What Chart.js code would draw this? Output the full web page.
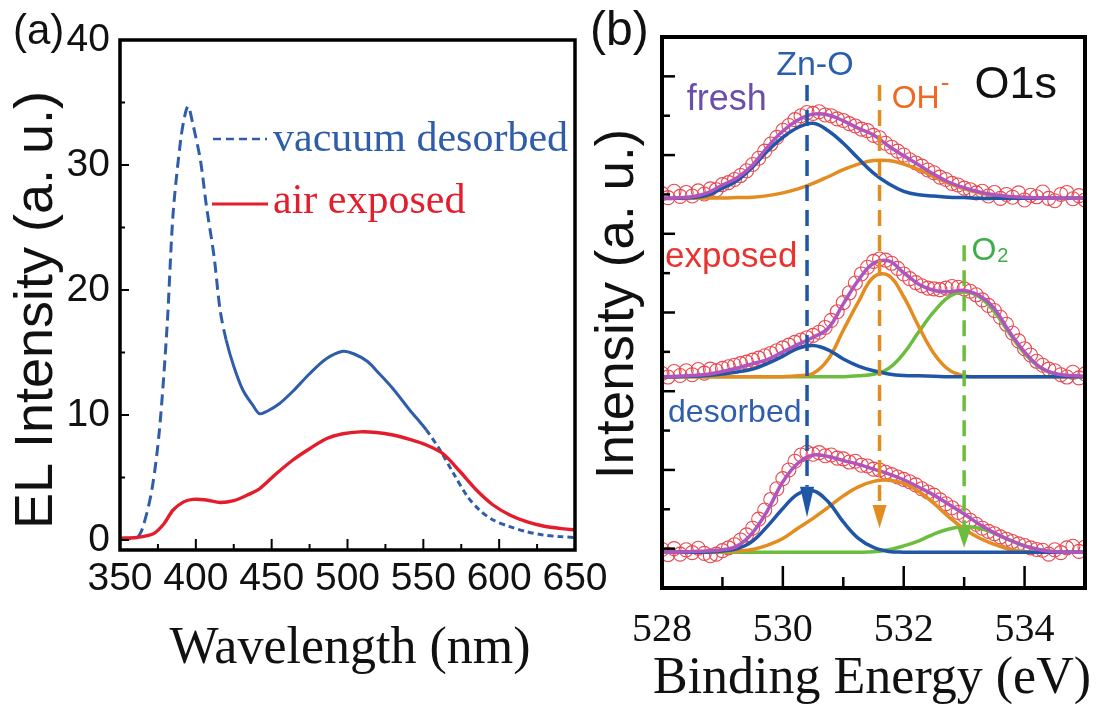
<!DOCTYPE html>
<html><head><meta charset="utf-8">
<script src="https://cdn.jsdelivr.net/npm/chart.js@4.4.1/dist/chart.umd.min.js"></script>
<style>
html,body{margin:0;padding:0;background:#fff;width:1101px;height:708px;overflow:hidden}
#ca{position:absolute;left:0;top:0}
#cb{position:absolute;left:580px;top:0}
</style></head><body>
<canvas id="ca" width="640" height="708"></canvas>
<canvas id="cb" width="521" height="708"></canvas>
<script>
// ---------- Panel (a): EL spectra ----------
const wlVacuum = [350,356,361,365,371,376,381,385,390,393,395,398,403,407,412,416,420,425,431,438,442,447,455,464,475,486,497,504,513,521,530,541,552,561,570,579,587,596,607,618,629,640,650];
const elVacuum = [0.10,0.10,0.15,1.0,4.0,8.8,17.0,26.1,32.0,34.1,34.7,33.3,30.4,26.7,22.7,18.4,16.0,13.9,12.0,10.7,10.1,10.3,10.9,11.9,13.3,14.5,15.1,14.9,14.3,13.3,12.1,10.4,8.8,7.2,5.3,3.5,2.4,1.6,1.07,0.67,0.4,0.27,0.2];
const wlAir = [350,361,372,379,385,392,398,407,416,425,434,442,453,464,475,486,497,508,519,530,541,552,563,574,585,596,607,618,629,640,650];
const elAir = [0.15,0.2,0.5,1.3,2.4,3.05,3.25,3.2,3.0,3.15,3.6,4.1,5.3,6.4,7.3,8.1,8.5,8.65,8.6,8.4,8.05,7.6,6.9,5.5,4.0,2.8,2.0,1.47,1.12,0.93,0.8];
const xTicksA = [350,400,450,500,550,600,650];
const xMinorA = [375,425,475,525,575,625];
const yTicksA = [0,10,20,30,40];
const yMinorA = [5,15,25,35];

// ---------- Panel (b): XPS O1s ----------
const beFit = [528,528.25,528.5,528.75,529,529.25,529.5,529.75,530,530.25,530.5,530.75,531,531.25,531.5,531.75,532,532.25,532.5,532.75,533,533.25,533.5,533.75,534,534.25,534.5,534.75,535];
const freshZnO = [9.90,9.90,9.92,9.98,10.16,10.36,10.70,11.11,11.45,11.70,11.81,11.62,11.30,10.91,10.54,10.27,10.08,9.99,9.96,9.93,9.92,9.90,9.90,9.90,9.90,9.90,9.90,9.90,9.90];
const freshOH  = [9.90,9.90,9.90,9.91,9.91,9.92,9.93,9.97,10.04,10.14,10.28,10.45,10.63,10.77,10.86,10.86,10.77,10.63,10.45,10.28,10.14,10.04,9.97,9.93,9.92,9.91,9.90,9.90,9.90];
const freshSum = [9.90,9.91,9.94,10.04,10.24,10.43,10.75,11.21,11.61,11.89,12.04,12.02,11.87,11.68,11.51,11.23,10.98,10.75,10.51,10.31,10.17,10.06,9.99,9.95,9.93,9.91,9.90,9.90,9.90];
const expZnO = [5.37,5.37,5.38,5.40,5.44,5.49,5.56,5.71,5.89,6.09,6.16,6.05,5.82,5.64,5.52,5.44,5.40,5.39,5.38,5.37,5.37,5.37,5.37,5.37,5.37,5.37,5.37,5.37,5.37];
const expOH  = [5.37,5.37,5.37,5.37,5.37,5.37,5.37,5.37,5.37,5.39,5.45,5.81,6.55,7.27,7.90,7.94,7.40,6.64,5.96,5.54,5.39,5.37,5.37,5.37,5.37,5.37,5.37,5.37,5.37];
const expO2  = [5.37,5.37,5.37,5.37,5.37,5.37,5.37,5.37,5.37,5.37,5.37,5.37,5.37,5.39,5.43,5.58,5.96,6.51,7.02,7.40,7.52,7.40,7.02,6.47,5.96,5.61,5.44,5.39,5.37];
const expSum = [5.37,5.38,5.40,5.43,5.50,5.59,5.70,5.81,6.00,6.19,6.37,6.60,7.22,7.82,8.25,8.31,8.01,7.72,7.56,7.53,7.56,7.43,7.10,6.51,6.00,5.62,5.45,5.40,5.38];
const desZnO = [0.91,0.91,0.91,0.91,0.94,1.00,1.19,1.58,2.02,2.39,2.47,2.19,1.68,1.26,1.03,0.93,0.91,0.91,0.91,0.91,0.91,0.91,0.91,0.91,0.91,0.91,0.91,0.91,0.91];
const desOH  = [0.91,0.91,0.91,0.92,0.92,0.94,0.98,1.09,1.26,1.52,1.77,2.05,2.34,2.57,2.71,2.74,2.66,2.45,2.15,1.80,1.50,1.27,1.11,0.98,0.92,0.91,0.91,0.91,0.91];
const desO2  = [0.91,0.91,0.91,0.91,0.91,0.91,0.91,0.91,0.91,0.91,0.91,0.91,0.91,0.91,0.92,0.97,1.07,1.20,1.37,1.50,1.56,1.52,1.39,1.22,1.07,0.97,0.92,0.91,0.91];
const desSum = [0.91,0.91,0.93,0.94,0.97,1.07,1.41,1.98,2.70,3.17,3.38,3.34,3.24,3.14,3.02,2.90,2.75,2.56,2.36,2.12,1.88,1.62,1.40,1.22,1.07,0.97,0.92,0.91,0.91];

const beData = [528.0,528.1,528.2,528.3,528.4,528.5,528.6,528.7,528.8,528.9,
  529.0,529.1,529.2,529.3,529.4,529.5,529.6,529.7,529.8,529.9,
  530.0,530.1,530.2,530.3,530.4,530.5,530.6,530.7,530.8,530.9,
  531.0,531.1,531.2,531.3,531.4,531.5,531.6,531.7,531.8,531.9,
  532.0,532.1,532.2,532.3,532.4,532.5,532.6,532.7,532.8,532.9,
  533.0,533.1,533.2,533.3,533.4,533.5,533.6,533.7,533.8,533.9,
  534.0,534.1,534.2,534.3,534.4,534.5,534.6,534.7,534.8,534.9,535.0];
const freshData = [10.02,9.92,10.08,9.95,10.05,9.96,10.09,10.01,10.14,10.12,
  10.25,10.30,10.38,10.48,10.60,10.76,10.92,11.10,11.28,11.45,
  11.63,11.75,11.90,12.00,12.08,12.06,12.10,12.02,12.00,11.92,
  11.88,11.80,11.74,11.66,11.62,11.50,11.44,11.30,11.20,11.10,
  11.00,10.88,10.80,10.72,10.62,10.55,10.44,10.38,10.28,10.24,
  10.16,10.12,10.04,10.08,9.96,10.05,9.90,10.00,9.93,10.04,
  9.86,9.98,9.94,10.06,9.90,9.84,10.00,10.05,9.89,9.97,9.86];
const expData = [5.45,5.36,5.50,5.40,5.52,5.42,5.55,5.46,5.56,5.52,
  5.58,5.62,5.66,5.70,5.74,5.79,5.84,5.90,5.96,6.03,
  6.10,6.17,6.24,6.30,6.36,6.42,6.50,6.62,6.80,7.02,
  7.25,7.50,7.75,7.98,8.15,8.30,8.36,8.33,8.25,8.12,
  7.98,7.86,7.76,7.68,7.62,7.60,7.58,7.62,7.66,7.64,
  7.60,7.54,7.45,7.32,7.18,7.05,6.88,6.70,6.48,6.28,
  6.08,5.92,5.76,5.66,5.56,5.52,5.42,5.36,5.48,5.34,5.44];
const desData = [0.98,0.85,1.00,0.86,0.97,0.90,1.01,0.88,0.82,0.86,
  0.95,1.02,1.10,1.22,1.35,1.52,1.75,1.98,2.25,2.52,
  2.78,3.00,3.22,3.38,3.45,3.40,3.44,3.36,3.38,3.30,
  3.28,3.20,3.22,3.12,3.10,3.02,3.00,2.94,2.88,2.82,
  2.76,2.70,2.62,2.52,2.44,2.36,2.24,2.14,2.04,1.92,
  1.84,1.72,1.62,1.52,1.44,1.38,1.30,1.24,1.18,1.12,
  1.08,1.02,0.98,0.96,0.86,0.97,0.90,1.02,1.06,0.93,1.04];

const xTicksB = [528,530,532,534];
const xMajorB = [530,532,534];
const xMinorB = [529,531,533];
const yTicksB = [1,2,3,4,5,6,7,8,9,10,11,12,13];
// peak marker lines: position, top of dashed line, arrow base, arrow tip
const peakE = [530.4,531.6,533.0];
const peakTop = [12.78,12.78,8.71];
const peakArrowBase = [2.57,2.11,1.55];
const peakArrowTip = [1.80,1.52,1.02];

// ---------- styling ----------
const BLUE_A = '#2f5da9', RED_A = '#e31d2b';
const BLUE = '#1f56a6', ORANGE = '#e38c1f', GREEN = '#6cbd3e', PURPLE = '#b055be', CIRC = '#e8474f';
const peakColor = [BLUE, ORANGE, GREEN];
const SANS = '"Liberation Sans", Arial, sans-serif';
const SERIF = '"Liberation Serif", "Times New Roman", serif';
const xy = (xs, ys) => xs.map((x, i) => ({x, y: ys[i]}));

function seg(ctx, x1, y1, x2, y2) { ctx.beginPath(); ctx.moveTo(x1, y1); ctx.lineTo(x2, y2); ctx.stroke(); }

const decoA = {
  id: 'decoA',
  afterDraw(chart) {
    const {ctx, chartArea: a, scales: {x, y}} = chart;
    ctx.save();
    ctx.strokeStyle = '#000';
    ctx.lineWidth = 2;
    xTicksA.forEach(v => { const p = x.getPixelForValue(v); seg(ctx, p, a.bottom, p, a.bottom - 11); });
    xMinorA.forEach(v => { const p = x.getPixelForValue(v); seg(ctx, p, a.bottom, p, a.bottom - 6); });
    yTicksA.forEach(v => { const p = y.getPixelForValue(v); seg(ctx, a.left, p, a.left + 9, p); });
    yMinorA.forEach(v => { const p = y.getPixelForValue(v); seg(ctx, a.left, p, a.left + 5, p); });
    ctx.lineWidth = 3.5;
    ctx.strokeRect(a.left, a.top, a.right - a.left, a.bottom - a.top);
    // legend
    ctx.lineWidth = 2.5; ctx.strokeStyle = BLUE_A; ctx.setLineDash([8, 5]);
    seg(ctx, 213, 139, 267, 139);
    ctx.setLineDash([]); ctx.strokeStyle = RED_A; ctx.lineWidth = 3;
    seg(ctx, 212, 204, 268, 204);
    ctx.font = '42px ' + SERIF; ctx.textAlign = 'left'; ctx.textBaseline = 'alphabetic';
    ctx.fillStyle = BLUE_A; ctx.fillText('vacuum desorbed', 273, 151);
    ctx.fillStyle = RED_A; ctx.fillText('air exposed', 273, 213);
    // titles
    ctx.fillStyle = '#111';
    ctx.font = '52px ' + SERIF; ctx.textAlign = 'center';
    ctx.fillText('Wavelength (nm)', 350, 663);
    ctx.font = '42px ' + SANS; ctx.textAlign = 'left';
    ctx.fillText('(a)', 13, 44);
    ctx.save();
    ctx.translate(52, 310); ctx.rotate(-Math.PI / 2);
    ctx.font = '54px ' + SANS; ctx.textAlign = 'center';
    ctx.fillText('EL Intensity (a. u.)', 0, 0);
    ctx.restore();
    ctx.restore();
  }
};

new Chart(document.getElementById('ca'), {
  type: 'line',
  data: { datasets: [
    { label: 'air exposed', data: xy(wlAir, elAir), borderColor: RED_A, borderWidth: 3.4, pointRadius: 0, tension: 0.3 },
    { label: 'vacuum desorbed', data: xy(wlVacuum, elVacuum), borderColor: BLUE_A, borderWidth: 3, pointRadius: 0, tension: 0.3,
      segment: { borderDash: c => (c.p1.parsed.x <= 420 ? [11, 6] : (c.p0.parsed.x >= 552 ? [6, 4] : undefined)) } }
  ]},
  options: {
    responsive: false, animation: false, events: [],
    layout: { padding: { left: 0, top: 40, right: 65, bottom: 0 } },
    plugins: { legend: { display: false }, tooltip: { enabled: false } },
    scales: {
      x: { type: 'linear', min: 350, max: 650,
        afterFit: s => { s.height = 158; },
        afterBuildTicks: s => { s.ticks = xTicksA.map(v => ({value: v})); },
        grid: { display: false, drawTicks: false }, border: { display: false },
        ticks: { font: { family: SANS, size: 39 }, color: '#111', padding: 6, maxRotation: 0, autoSkip: false } },
      y: { type: 'linear', min: -0.8, max: 40,
        afterFit: s => { s.width = 120; },
        afterBuildTicks: s => { s.ticks = yTicksA.map(v => ({value: v})); },
        grid: { display: false, drawTicks: false }, border: { display: false },
        ticks: { font: { family: SANS, size: 39 }, color: '#111', padding: 10 } }
    }
  },
  plugins: [decoA]
});

const labelsB = [
  { t: 'Zn-O', x: 530.53, y: 13.03, c: '#2b5fae', s: 34, align: 'center' },
  { t: 'fresh', x: 528.41, y: 12.14, c: '#6b4fa8', s: 36, align: 'left' },
  { t: 'OH', x: 531.80, y: 12.20, c: '#ee6a22', s: 32, align: 'left', sup: '-' },
  { t: 'O1s', x: 533.17, y: 12.45, c: '#111111', s: 45, align: 'left' },
  { t: 'exposed', x: 528.05, y: 8.16, c: '#e8332f', s: 35, align: 'left' },
  { t: 'O', x: 533.12, y: 8.33, c: '#3fae49', s: 32, align: 'left', sub: '2' },
  { t: 'desorbed', x: 528.10, y: 4.22, c: '#2e5fae', s: 32, align: 'left' }
];

const decoB = {
  id: 'decoB',
  afterDatasetsDraw(chart) {
    const {ctx, scales: {x, y}} = chart;
    ctx.save();
    peakE.forEach((e, i) => {
      const px = x.getPixelForValue(e);
      const top = y.getPixelForValue(peakTop[i]);
      const base = y.getPixelForValue(peakArrowBase[i]);
      const tip = y.getPixelForValue(peakArrowTip[i]);
      ctx.strokeStyle = peakColor[i]; ctx.fillStyle = peakColor[i];
      ctx.lineWidth = 3.5; ctx.setLineDash([16, 9]);
      seg(ctx, px, top, px, base);
      ctx.setLineDash([]);
      ctx.beginPath(); ctx.moveTo(px - 7, base); ctx.lineTo(px + 7, base); ctx.lineTo(px, tip); ctx.closePath(); ctx.fill();
    });
    ctx.restore();
  },
  afterDraw(chart) {
    const {ctx, chartArea: a, scales: {x, y}} = chart;
    ctx.save();
    ctx.strokeStyle = '#000'; ctx.lineWidth = 2.5;
    xMajorB.forEach(v => { const p = x.getPixelForValue(v); seg(ctx, p, a.bottom, p, a.bottom - 22); });
    xMinorB.forEach(v => { const p = x.getPixelForValue(v); seg(ctx, p, a.bottom, p, a.bottom - 11); });
    yTicksB.forEach(v => { const p = y.getPixelForValue(v); seg(ctx, a.left, p, a.left + (v % 2 ? 13 : 8), p); });
    ctx.lineWidth = 4;
    ctx.strokeRect(a.left, a.top, a.right - a.left, a.bottom - a.top);
    // peak labels
    ctx.textBaseline = 'alphabetic';
    labelsB.forEach(l => {
      const px = x.getPixelForValue(l.x), py = y.getPixelForValue(l.y);
      ctx.fillStyle = l.c; ctx.font = l.s + 'px ' + SANS; ctx.textAlign = l.align;
      ctx.fillText(l.t, px, py);
      const w = ctx.measureText(l.t).width;
      if (l.sup) { ctx.font = '26px ' + SANS; ctx.textAlign = 'left'; ctx.fillText(l.sup, px + w + 1, py - 17); }
      if (l.sub) { ctx.font = '20px ' + SANS; ctx.textAlign = 'left'; ctx.fillText(l.sub, px + w + 1, py + 2); }
    });
    // titles
    ctx.fillStyle = '#111';
    ctx.font = '52px ' + SERIF; ctx.textAlign = 'center';
    ctx.fillText('Binding Energy (eV)', 292, 693);
    ctx.font = '48px ' + SANS; ctx.textAlign = 'left';
    ctx.fillText('(b)', 10, 45);
    ctx.save();
    ctx.translate(53, 304); ctx.rotate(-Math.PI / 2);
    ctx.font = '53px ' + SANS; ctx.textAlign = 'center';
    ctx.fillText('Intensity (a. u.)', 0, 0);
    ctx.restore();
    ctx.restore();
  }
};

const fitLine = (data, color, label) => ({ label, data, borderColor: color, borderWidth: 3.5, pointRadius: 0, tension: 0.4, fill: false });
const circles = (data, label) => ({ label, data, showLine: false, pointRadius: 7, pointBorderWidth: 1.1, pointBorderColor: CIRC, pointBackgroundColor: 'rgba(0,0,0,0)', borderColor: CIRC, backgroundColor: 'rgba(0,0,0,0)' });

new Chart(document.getElementById('cb'), {
  type: 'line',
  data: { datasets: [
    fitLine(xy(beFit, freshSum), PURPLE, 'fresh fit'),
    fitLine(xy(beFit, expSum), PURPLE, 'exposed fit'),
    fitLine(xy(beFit, desSum), PURPLE, 'desorbed fit'),
    fitLine(xy(beFit, freshZnO), BLUE, 'fresh Zn-O'),
    fitLine(xy(beFit, freshOH), ORANGE, 'fresh OH-'),
    fitLine(xy(beFit, expZnO), BLUE, 'exposed Zn-O'),
    fitLine(xy(beFit, expOH), ORANGE, 'exposed OH-'),
    fitLine(xy(beFit, expO2), GREEN, 'exposed O2'),
    fitLine(xy(beFit, desZnO), BLUE, 'desorbed Zn-O'),
    fitLine(xy(beFit, desOH), ORANGE, 'desorbed OH-'),
    fitLine(xy(beFit, desO2), GREEN, 'desorbed O2'),
    circles(xy(beData, freshData), 'fresh data'),
    circles(xy(beData, expData), 'exposed data'),
    circles(xy(beData, desData), 'desorbed data')
  ]},
  options: {
    responsive: false, animation: false, events: [],
    layout: { padding: { left: 0, top: 37, right: 16, bottom: 0 } },
    plugins: { legend: { display: false }, tooltip: { enabled: false } },
    scales: {
      x: { type: 'linear', min: 528, max: 535,
        afterFit: s => { s.height = 120; },
        afterBuildTicks: s => { s.ticks = xTicksB.map(v => ({value: v})); },
        grid: { display: false, drawTicks: false }, border: { display: false },
        ticks: { font: { family: SERIF, size: 40 }, color: '#111', padding: 18, maxRotation: 0, autoSkip: false } },
      y: { type: 'linear', min: 0, max: 14,
        afterFit: s => { s.width = 82; },
        grid: { display: false, drawTicks: false }, border: { display: false },
        ticks: { display: false } }
    }
  },
  plugins: [decoB]
});
</script>
</body></html>
